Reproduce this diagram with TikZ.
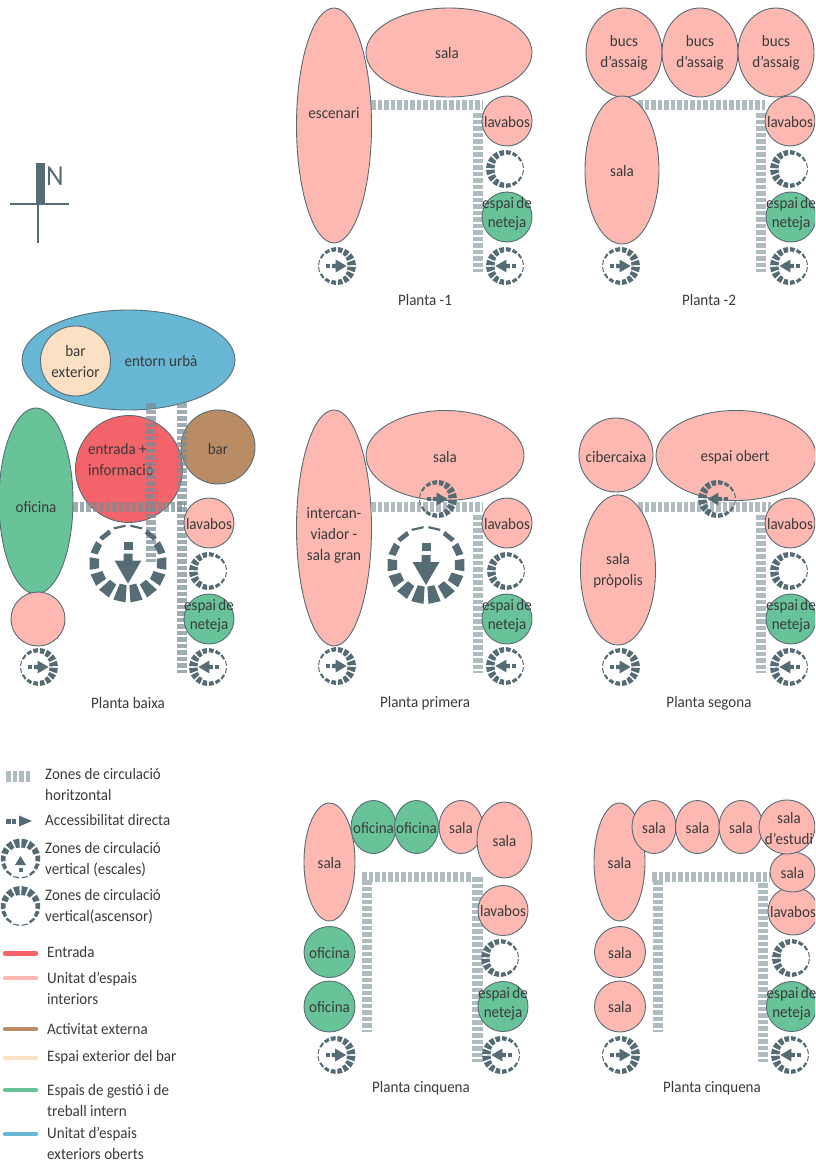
\documentclass[tikz,border=0pt]{standalone}
\usepackage{fontspec}
\setmainfont{Carlito}[FakeStretch=0.94]
\usetikzlibrary{shapes.geometric}
\definecolor{pinkc}{HTML}{FDB9B1}
\definecolor{greenc}{HTML}{69C399}
\definecolor{redc}{HTML}{F3636A}
\definecolor{brownc}{HTML}{B98C63}
\definecolor{creamc}{HTML}{FBE0C4}
\definecolor{bluec}{HTML}{68B7D4}
\definecolor{symc}{HTML}{566C75}
\definecolor{circc}{HTML}{B1BCC1}
\definecolor{textc}{HTML}{3A3A3A}
\tikzset{
  roomshape/.style={ellipse,draw=symc,line width=0.9pt,inner sep=0pt,outer sep=0pt},
  roomtext/.style={text=textc,font=\fontsize{16}{21}\selectfont,align=center,inner sep=0pt},
  plantatext/.style={text=textc,font=\fontsize{16}{21}\selectfont,align=center,inner sep=0pt},
  legendtext/.style={text=textc,font=\fontsize{16}{21}\selectfont,align=left,anchor=west,inner sep=0pt},
  circline/.style={draw=circc,line width=10.5pt,dash pattern=on 4.5pt off 2pt},
  circover/.style={draw=symc!60!circc,line width=10.5pt,dash pattern=on 4.5pt off 2pt,opacity=.72},
  legendline/.style={line width=4.5pt,line cap=round},
  symfill/.style={fill=symc,draw=none},
}
% #1 name, #2 x, #3 y, #4 rx, #5 ry, #6 colour, #7 text
\newcommand{\roomat}[7]{%
  \node[roomshape,fill=#6,minimum width=2*#4 pt,minimum height=2*#5 pt] (#1) at (#2,#3) {};
  \node[roomtext,yshift=-0.7pt] (#1-t) at (#1.center) {#7};
}
% green cleaning room: #1 name, #2 x, #3 y
\newcommand{\netroom}[3]{%
  \node[roomshape,fill=greenc,minimum width=50pt,minimum height=50pt] (#1) at (#2,#3) {};
  \node[roomtext,yshift=3pt] (#1-t) at (#1.center) {espai\kern-1pt{} de\\[-2pt]neteja};
}
% #1 name, #2 x, #3 y, #4 R, #5 direction (deg clockwise from east), #6 segments
\newcommand{\ringsym}[6]{%
  \coordinate (#1) at (#2,#3);
  \begin{scope}[shift={(#1)},rotate=-#5]
    \pgfmathsetmacro\stp{360/#6}
    \pgfmathsetmacro\hs{\stp*.36}
    \foreach \i in {1,...,#6}{
      \pgfmathsetmacro\ang{(\i-.5)*\stp}
      \pgfmathsetmacro\fold{min(\ang,360-\ang)}
      \pgfmathsetmacro\wd{#4*(.025+.45*(1-\fold/180))}
      \pgfmathsetmacro\rin{#4-\wd}
      \pgfmathsetmacro\aa{\ang-\hs}
      \pgfmathsetmacro\ab{\ang+\hs}
      \fill[symfill] (\aa:#4) -- (\ab:#4) -- (\ab:\rin) -- (\aa:\rin) -- cycle;
    }
  \end{scope}
}
% #1 coordinate name, #2 scale, #3 direction
\newcommand{\arrowsym}[3]{%
  \begin{scope}[shift={(#1)},rotate=-#3,scale=#2]
    \fill[symfill] (-22,-4.5) rectangle (-14,4.5);
    \fill[symfill] (-10,-4.5) -- (-3,-4.5) -- (-3,-13.5) -- (20,0) -- (-3,13.5) -- (-3,4.5) -- (-10,4.5) -- cycle;
  \end{scope}
}
\begin{document}
\begin{tikzpicture}[x=1pt,y=-1pt]
\useasboundingbox (0,0) rectangle (815,1164);
\clip (0,0) rectangle (815,1164);

%% North
\fill[symc] (36,163) rectangle (45,204);
\draw[symc,line width=2pt] (10,203.5) -- (69,203.5);
\draw[symc,line width=2pt] (38,204) -- (38,243);
\node[text=symc,font=\fontsize{29}{29}\selectfont,inner sep=0pt] (north) at (55,176.5) {N};

%% Planta -1
\coordinate (a1) at (371,105); \coordinate (a2) at (482,105);
\coordinate (a3) at (478,113); \coordinate (a4) at (478,272);
\draw[circline] (a1) -- (a2);
\draw[circline] (a3) -- (a4);
\roomat{aesc}{334}{125.5}{37.5}{117.5}{pinkc}{}
\node[roomtext] (aesct) at (334,113) {escenari};
\roomat{asala}{449}{52.5}{83}{44.5}{pinkc}{}
\node[roomtext] (asalat) at (447,53.5) {sala};
\roomat{alav}{507}{121}{25}{25}{pinkc}{lavabos}
\netroom{anet}{507}{217}
\ringsym{aasc}{505}{169}{19}{180}{16}
\ringsym{al}{337}{266}{19}{0}{16}\arrowsym{al}{.48}{0}
\ringsym{ar}{505}{266}{19}{180}{16}\arrowsym{ar}{.48}{180}
\node[plantatext] (alabel) at (425,300) {Planta -1};

%% Planta -2
\coordinate (b1) at (638,105); \coordinate (b2) at (765,105);
\coordinate (b3) at (761,113); \coordinate (b4) at (761,272);
\draw[circline] (b1) -- (b2);
\draw[circline] (b3) -- (b4);
\roomat{bb1}{624}{52.5}{38}{44.5}{pinkc}{bucs\\d’assaig}
\roomat{bb2}{700}{52.5}{38}{44.5}{pinkc}{bucs\\d’assaig}
\roomat{bb3}{776}{52.5}{38}{44.5}{pinkc}{bucs\\d’assaig}
\roomat{bsala}{622}{170}{37}{74}{pinkc}{sala}
\roomat{blav}{790}{121}{25}{25}{pinkc}{lavabos}
\netroom{bnet}{791}{217}
\ringsym{basc}{789}{169}{19}{180}{16}
\ringsym{bl}{621}{266}{19}{0}{16}\arrowsym{bl}{.48}{0}
\ringsym{br}{789}{266}{19}{180}{16}\arrowsym{br}{.48}{180}
\node[plantatext] (blabel) at (709,300) {Planta -2};

%% Planta baixa
\roomat{cent}{128.5}{360}{106.5}{50}{bluec}{}
\node[roomtext] (centl) at (161,361) {entorn urbà};
\roomat{cbe}{75.5}{361}{35}{35}{creamc}{bar\\exterior}
\roomat{cofi}{36}{501}{37}{93}{greenc}{}
\node[roomtext] (cofit) at (36,507) {oficina};
\roomat{cpink}{38}{619}{27}{27}{pinkc}{}
\node[roomshape,fill=redc,minimum width=107pt,minimum height=107pt] (cin) at (129,469) {};
\node[roomtext,align=left,anchor=west] (cint) at (88,459.5) {entrada +\\informació};
\roomat{cbar}{218}{447}{37}{37}{brownc}{}
\node[roomtext] (cbart) at (218,449) {bar};
\coordinate (c1) at (73,507); \coordinate (c2) at (185,507);
\coordinate (c3) at (151,403); \coordinate (c4) at (151,562);
\coordinate (c5) at (182,403); \coordinate (c6) at (182,673);
\draw[circover] (c1) -- (c2);
\draw[circover] (c3) -- (c4);
\draw[circover] (c5) -- (c6);
\roomat{clav}{209}{523}{25}{25}{pinkc}{lavabos}
\netroom{cnet}{209}{619}
\ringsym{casc}{208}{571}{19}{180}{16}
\ringsym{cbig}{128}{563.5}{39}{90}{14}\arrowsym{cbig}{1}{90}
\ringsym{cl}{39}{667}{19}{0}{16}\arrowsym{cl}{.48}{0}
\ringsym{cr}{208}{667}{19}{180}{16}\arrowsym{cr}{.48}{180}
\node[plantatext] (clabel) at (128,703) {Planta baixa};

%% Planta primera
\coordinate (d1) at (371,507); \coordinate (d2) at (482,507);
\coordinate (d3) at (478,515); \coordinate (d4) at (478,673);
\draw[circline] (d3) -- (d4);
\roomat{dint}{334}{528}{37.5}{118}{pinkc}{}
\node[roomtext] (dintt) at (334,535.5) {intercan-\\viador -\\sala gran};
\roomat{dsala}{445}{455.5}{79}{45}{pinkc}{}
\node[roomtext] (dsalat) at (445,457) {sala};
\roomat{dlav}{507}{523}{25}{25}{pinkc}{lavabos}
\netroom{dnet}{507}{619}
\ringsym{dasc}{506}{571}{19}{180}{16}
\draw[circline] (d1) -- (d2);
\ringsym{dst}{438}{499}{19}{0}{16}\arrowsym{dst}{.48}{0}
\ringsym{dbig}{426}{565}{39}{90}{14}\arrowsym{dbig}{1}{90}
\ringsym{dl}{337}{666}{19}{0}{16}\arrowsym{dl}{.48}{0}
\ringsym{dr}{505}{666}{19}{180}{16}\arrowsym{dr}{.48}{180}
\node[plantatext] (dlabel) at (425,703) {Planta primera};

%% Planta segona
\coordinate (e1) at (638,507); \coordinate (e2) at (771,507);
\coordinate (e3) at (761,515); \coordinate (e4) at (761,673);
\draw[circline] (e3) -- (e4);
\roomat{ecib}{616}{455}{37}{37}{pinkc}{}
\node[roomtext] (ecibt) at (616,457) {cibercaixa};
\roomat{eobe}{736}{455.5}{80}{45}{pinkc}{}
\node[roomtext] (eobet) at (735,457) {espai obert};
\draw[circline] (e1) -- (e2);
\roomat{esal}{618}{570}{37.5}{75}{pinkc}{sala\\pròpolis}
\roomat{elav}{790}{523}{25}{25}{pinkc}{lavabos}
\netroom{enet}{791}{619}
\ringsym{easc}{789}{571}{19}{180}{16}
\ringsym{est}{717}{499}{19}{180}{16}\arrowsym{est}{.48}{180}
\ringsym{el}{621}{667}{19}{0}{16}\arrowsym{el}{.48}{0}
\ringsym{er}{789}{667}{19}{180}{16}\arrowsym{er}{.48}{180}
\node[plantatext] (elabel) at (709,703) {Planta segona};

%% Planta cinquena (1)
\coordinate (f1) at (362,877); \coordinate (f2) at (472,877);
\coordinate (f3) at (367,880); \coordinate (f4) at (367,1032);
\coordinate (f5) at (477.5,877); \coordinate (f6) at (477.5,1062);
\draw[circline] (f1) -- (f2);
\draw[circline] (f3) -- (f4);
\draw[circline] (f5) -- (f6);
\roomat{fsala}{329.5}{862}{25.5}{59}{pinkc}{sala}
\roomat{fo1}{329.5}{952}{25.5}{25.5}{greenc}{oficina}
\roomat{fo2}{329.5}{1006.5}{25.5}{25.5}{greenc}{oficina}
\roomat{ft1}{373.5}{827}{22.5}{26.5}{greenc}{oficina}
\roomat{ft2}{416.5}{827}{22}{26.5}{greenc}{oficina}
\roomat{ft3}{461}{827}{22}{26.5}{pinkc}{}
\node[roomtext] (ft3t) at (461,828) {sala};
\roomat{ft4}{504.5}{840}{27.5}{38}{pinkc}{sala}
\roomat{flav}{503}{910.5}{25}{25}{pinkc}{lavabos}
\netroom{fnet}{503}{1006.5}
\ringsym{fasc}{500}{958}{19}{180}{16}
\ringsym{fl}{336.5}{1055}{19}{0}{16}\arrowsym{fl}{.48}{0}
\ringsym{fr}{501}{1055}{19}{180}{16}\arrowsym{fr}{.48}{180}
\node[plantatext] (flabel) at (421,1088) {Planta cinquena};

%% Planta cinquena (2)
\coordinate (g1) at (652,877); \coordinate (g2) at (770,877);
\coordinate (g3) at (658,880); \coordinate (g4) at (658,1032);
\coordinate (g5) at (763,883); \coordinate (g6) at (763,1062);
\draw[circline] (g1) -- (g2);
\draw[circline] (g3) -- (g4);
\draw[circline] (g5) -- (g6);
\roomat{gsala}{619.5}{862}{25.5}{59}{pinkc}{sala}
\roomat{gs1}{620}{952}{25.5}{25.5}{pinkc}{sala}
\roomat{gs2}{620}{1006.5}{25.5}{25.5}{pinkc}{sala}
\roomat{gt1}{654}{827}{22}{26.5}{pinkc}{sala}
\roomat{gt2}{697.5}{827}{22}{26.5}{pinkc}{sala}
\roomat{gt3}{741}{827}{22}{26.5}{pinkc}{sala}
\roomat{glav}{793}{911}{25}{24}{pinkc}{lavabos}
\roomat{gs3}{792.5}{872}{22.5}{20}{pinkc}{sala}
\roomat{gest}{787}{827}{28}{27}{pinkc}{}
\node[roomtext] (gestt) at (789,828) {sala\\d’estudi};
\netroom{gnet}{791.5}{1006.5}
\ringsym{gasc}{791}{958}{19}{180}{16}
\ringsym{gl}{621}{1055}{19}{0}{16}\arrowsym{gl}{.48}{0}
\ringsym{gr}{790}{1055}{19}{180}{16}\arrowsym{gr}{.48}{180}
\node[plantatext] (glabel) at (712,1088) {Planta cinquena};

%% Legend
\coordinate (h1) at (6,776); \coordinate (h2) at (32,776);
\draw[circline,line width=11pt] (h1) -- (h2);
\node[legendtext] (ht1) at (45,784.5) {Zones de circulació\\horitzontal};
\fill[symfill] (6,819) rectangle (10.5,823.5);
\fill[symfill] (12,819) rectangle (16,823.5);
\fill[symfill] (19,815.5) -- (32,821) -- (19,826.5) -- cycle;
\node[legendtext] (ht2) at (45,820) {Accessibilitat directa};
\ringsym{hs}{20.5}{858.5}{20}{270}{14}
\fill[symfill] (15,865) -- (20.5,856) -- (26,865) -- cycle;
\fill[symfill] (18.5,868) rectangle (22.5,872);
\node[legendtext] (ht3) at (45,859.5) {Zones de circulació\\vertical (escales)};
\ringsym{ha}{20.5}{906}{20}{270}{14}
\node[legendtext] (ht4) at (45,906.5) {Zones de circulació\\vertical(ascensor)};

\coordinate (k1a) at (5,953.5); \coordinate (k1b) at (36,953.5);
\coordinate (k2a) at (5,978); \coordinate (k2b) at (36,978);
\coordinate (k3a) at (5,1029); \coordinate (k3b) at (36,1029);
\coordinate (k4a) at (5,1058); \coordinate (k4b) at (36,1058);
\coordinate (k5a) at (5,1090); \coordinate (k5b) at (36,1090);
\coordinate (k6a) at (5,1134); \coordinate (k6b) at (36,1134);
\draw[legendline,redc] (k1a) -- (k1b);
\draw[legendline,pinkc] (k2a) -- (k2b);
\draw[legendline,brownc] (k3a) -- (k3b);
\draw[legendline,creamc] (k4a) -- (k4b);
\draw[legendline,greenc] (k5a) -- (k5b);
\draw[legendline,bluec] (k6a) -- (k6b);
\node[legendtext] (kt1) at (47,952) {Entrada};
\node[legendtext] (kt2) at (47,988) {Unitat d’espais\\interiors};
\node[legendtext] (kt3) at (47,1029) {Activitat externa};
\node[legendtext] (kt4) at (47,1057) {Espai exterior del bar};
\node[legendtext] (kt5) at (47,1100) {Espais de gestió i de\\treball intern};
\node[legendtext] (kt6) at (47,1143) {Unitat d’espais\\exteriors oberts};
\end{tikzpicture}
\end{document}
